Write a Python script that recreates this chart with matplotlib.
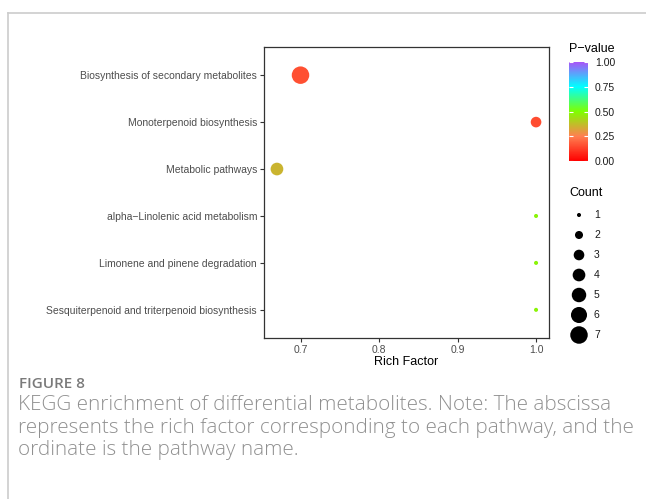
import numpy as np
import matplotlib
matplotlib.use("Agg")
import matplotlib.pyplot as plt
from matplotlib.colors import LinearSegmentedColormap, Normalize
from matplotlib.lines import Line2D

# ============================================================
# DATA
# ============================================================
pathways = [
    "Biosynthesis of secondary metabolites",
    "Monoterpenoid biosynthesis",
    "Metabolic pathways",
    "alpha\u2212Linolenic acid metabolism",
    "Limonene and pinene degradation",
    "Sesquiterpenoid and triterpenoid biosynthesis",
]
rich_factor = [0.70, 1.00, 0.67, 1.00, 1.00, 1.00]
counts = [7, 3, 4, 1, 1, 1]
p_values = [0.16, 0.15, 0.355, 0.48, 0.48, 0.48]

legend_counts = [1, 2, 3, 4, 5, 6, 7]
cbar_ticks = [0.00, 0.25, 0.50, 0.75, 1.00]

caption_head = "FIGURE 8"
caption_lines = [
    "KEGG enrichment of differential metabolites. Note: The abscissa",
    "represents the rich factor corresponding to each pathway, and the",
    "ordinate is the pathway name.",
]

# ============================================================
# STYLE
# ============================================================
W, H = 646, 499
plt.rcParams["font.family"] = ["Liberation Sans", "DejaVu Sans"]

cmap = LinearSegmentedColormap.from_list(
    "pv", ["#FF0000", "#FF7F50", "#7FFF00", "#00FFFF", "#A855F7"])
norm = Normalize(0, 1)

TICK_FS = 7.45
TITLE_FS = 9


def fx(px):
    return px / W


def fy(py):
    return 1 - py / H


def marker_area(c):
    # diameter in px grows with sqrt of count, converted to pt^2
    d = np.sqrt(48.3 * np.asarray(c, float) - 32)
    return (d * 0.72) ** 2


fig = plt.figure(figsize=(W / 100, H / 100), dpi=100)

# page frame (top and left rule)
fig.add_artist(Line2D([fx(8), 1], [fy(13), fy(13)], color="#cccccc", lw=1.2))
fig.add_artist(Line2D([fx(8), fx(8)], [fy(13), 0], color="#cccccc", lw=1.2))

# ============================================================
# MAIN BUBBLE PLOT
# ============================================================
ax = fig.add_axes([fx(264), fy(338), fx(549) - fx(264), fy(47) - fy(338)])
ypos = np.arange(len(pathways))[::-1]
ax.scatter(rich_factor, ypos, s=marker_area(counts), c=p_values,
           cmap=cmap, norm=norm, edgecolors="none", zorder=3)

ax.set_yticks(ypos)
ax.set_yticklabels(pathways)
ax.set_ylim(-0.6, len(pathways) - 0.4)
ax.set_xticks([0.7, 0.8, 0.9, 1.0])
ax.set_xticklabels(["0.7", "0.8", "0.9", "1.0"])
ax.set_xlim(0.6535, 1.0165)
ax.set_xlabel("Rich Factor", fontsize=TITLE_FS, color="black", labelpad=1)
ax.tick_params(axis="both", length=3, width=0.8, color="#333333",
               labelsize=TICK_FS, labelcolor="#4d4d4d", pad=2)
for sp in ax.spines.values():
    sp.set_color("#333333")
    sp.set_linewidth(0.9)

# ============================================================
# P-VALUE COLORBAR
# ============================================================
fig.text(fx(569), fy(49), "P\u2212value", fontsize=TITLE_FS, va="center", ha="left")
cax = fig.add_axes([fx(569), fy(161), fx(588) - fx(569), fy(62) - fy(161)])
sm = plt.cm.ScalarMappable(norm=norm, cmap=cmap)
cb = fig.colorbar(sm, cax=cax, ticks=cbar_ticks)
cb.outline.set_visible(False)
cb.ax.set_yticklabels([f"{t:.2f}" for t in cbar_ticks])
cb.ax.tick_params(length=0, labelsize=TICK_FS, labelcolor="#1a1a1a", pad=5)
tr = cax.get_yaxis_transform()
cax.hlines(cbar_ticks, 0, 0.2, color="white", lw=0.8, transform=tr)
cax.hlines(cbar_ticks, 0.8, 1, color="white", lw=0.8, transform=tr)

# ============================================================
# COUNT LEGEND
# ============================================================
fig.text(fx(569), fy(193), "Count", fontsize=TITLE_FS, va="center", ha="left")
lax = fig.add_axes([0, 0, 1, 1])
lax.set_xlim(0, W)
lax.set_ylim(H, 0)
lax.axis("off")
ly = 215 + 20 * np.arange(len(legend_counts))
lax.scatter(np.full(len(legend_counts), 579), ly, s=marker_area(legend_counts),
            color="black", edgecolors="none")
for c, y in zip(legend_counts, ly):
    lax.text(594, y, str(c), fontsize=TICK_FS, va="center", ha="left", color="#1a1a1a")

# ============================================================
# CAPTION
# ============================================================
cap_font = ["Open Sans", "DejaVu Sans"]
fig.text(fx(19), fy(384), caption_head, fontsize=11, color="#7a7a7a",
         family=cap_font, fontweight="semibold", va="center", ha="left")
for i, line in enumerate(caption_lines):
    fig.text(fx(18), fy(405 + 22.5 * i), line, fontsize=14.9, color="#909090",
             family=cap_font, fontweight="light", va="center", ha="left")

fig.savefig("out.png", dpi=100)
